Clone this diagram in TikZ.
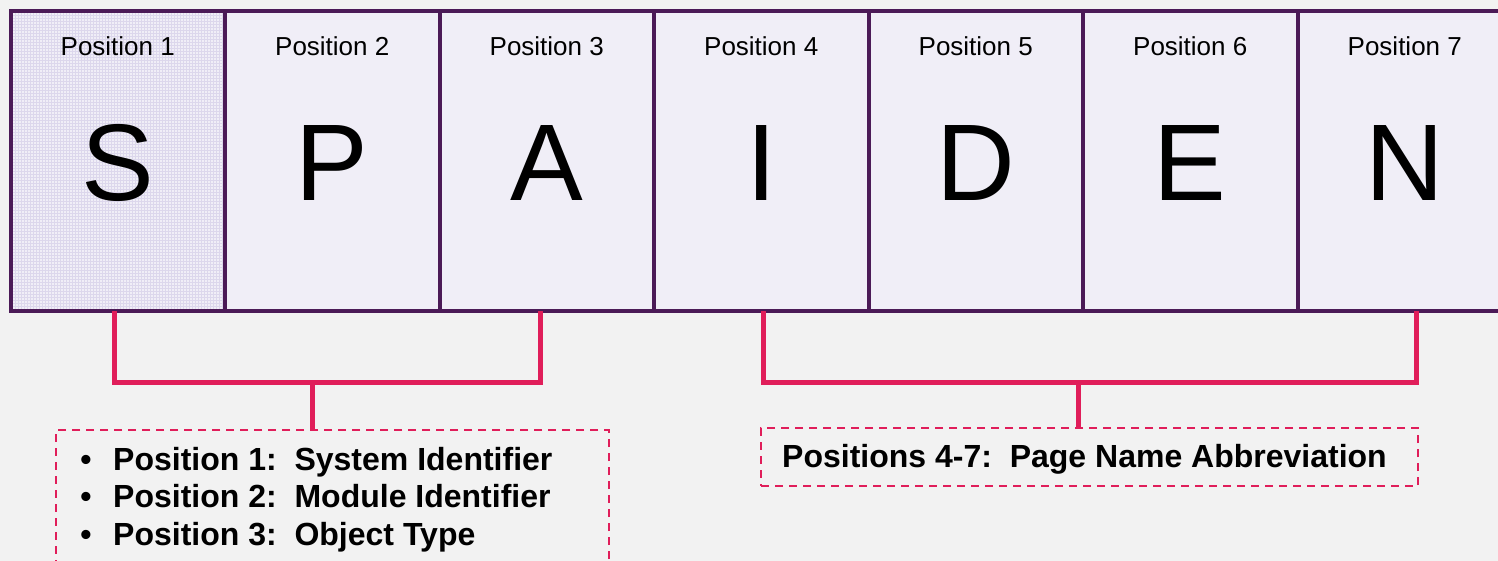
\documentclass[tikz,border=0pt]{standalone}
\usepackage{fontspec}
\setmainfont{Liberation Sans}
\definecolor{bg}{HTML}{F2F2F2}
\definecolor{cellfill}{HTML}{F0EEF7}
\definecolor{cellpat}{HTML}{DCD7EC}
\definecolor{border}{HTML}{4B1A57}
\definecolor{brkc}{HTML}{E01E5A}
\begin{document}
\begin{tikzpicture}[x=1pt,y=-1pt,
  cell/.style={draw=border, line width=4pt, fill=cellfill, minimum width=214.5pt, minimum height=300pt, inner sep=0pt},
  poslab/.style={font=\fontsize{26}{30}\selectfont, anchor=base, inner sep=0pt},
  letter/.style={font=\fontsize{109}{120}\selectfont, anchor=base, inner sep=0pt},
  brk/.style={draw=brkc, line width=5pt},
  dbox/.style={draw=brkc, line width=2.3pt, dash pattern=on 8pt off 6pt, inner sep=0pt},
  desc/.style={font=\bfseries\fontsize{32}{36}\selectfont, anchor=base west, inner sep=0pt},
  bullet/.style={font=\bfseries\fontsize{32}{36}\selectfont, anchor=base, inner sep=0pt}]
\fill[bg] (0,0) rectangle (1498,561);
\useasboundingbox (0,0) rectangle (1498,561);
\clip (0,0) rectangle (1498,561);
% cells
\foreach \i in {1,...,7} {
  \pgfmathsetmacro{\cx}{117.75+214.5*(\i-1)}
  \node[cell] (b\i) at (\cx,161) {};
}
% texture of the first cell
\begin{scope}
  \clip ([xshift=2pt,yshift=-2pt]b1.north west) rectangle ([xshift=-2pt,yshift=2pt]b1.south east);
  \draw[cellpat, line width=0.7pt, step=3pt] (b1.south west) grid (b1.north east);
\end{scope}
\node[cell, fill=none] (b1f) at (b1.center) {};
% labels and letters
\foreach \i/\L in {1/S,2/P,3/A,4/I,5/D,6/E,7/N} {
  \pgfmathsetmacro{\cx}{117.75+214.5*(\i-1)}
  \node[poslab] (p\i) at (\cx,56) {Position \i};
  \node[letter] (c\i) at (\cx,201) {\L};
}
% description boxes
\node[dbox, minimum width=553pt, minimum height=150pt] (d1) at (332.5,505) {};
\node[dbox, minimum width=657pt, minimum height=58pt] (d2) at (1089.5,457) {};
% brackets
\coordinate (l1) at (114,311);
\coordinate (l3) at (540,311);
\coordinate (lm) at (312,382);
\coordinate (r4) at (763,311);
\coordinate (r7) at (1416,311);
\coordinate (rm) at (1078,382);
\draw[brk] (l1) |- (l3 |- lm) -- (l3);
\draw[brk] (lm) -- (lm |- d1.north);
\draw[brk] (r4) |- (r7 |- rm) -- (r7);
\draw[brk] (rm) -- (rm |- d2.north);
% texts
\node[bullet] (u1) at (86,470) {•};
\node[bullet] (u2) at (86,507) {•};
\node[bullet] (u3) at (86,545) {•};
\node[desc] (t1) at (113,470) {Position 1:~~System Identifier};
\node[desc] (t2) at (113,507) {Position 2:~~Module Identifier};
\node[desc] (t3) at (113,545) {Position 3:~~Object Type};
\node[desc] (t4) at (782,467) {Positions 4-7:~~Page Name Abbreviation};
\end{tikzpicture}
\end{document}
